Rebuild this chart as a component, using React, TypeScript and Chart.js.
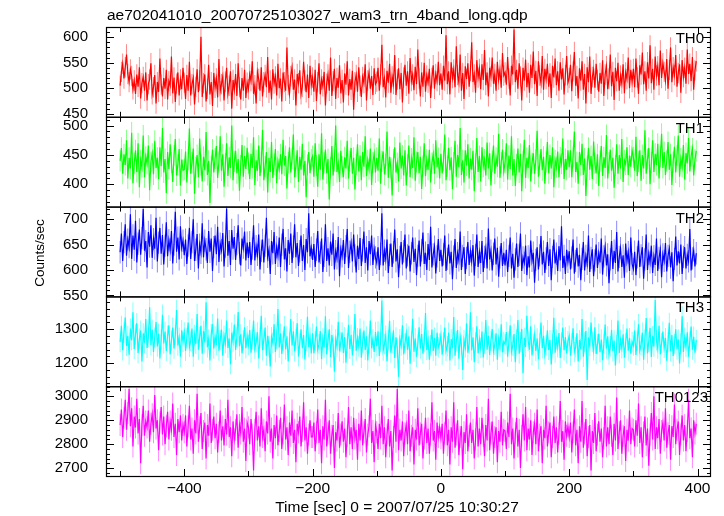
import React, { useEffect, useRef } from 'react';
import { Chart, registerables } from 'chart.js';

Chart.register(...registerables);

const TITLE = 'ae702041010_20070725103027_wam3_trn_4band_long.qdp';
const X_TITLE = 'Time [sec] 0 = 2007/07/25 10:30:27';
const Y_TITLE = 'Counts/sec';
const PANEL_NAMES = ['TH0', 'TH1', 'TH2', 'TH3', 'TH0123'];
const PANEL_COLORS = ['#ff0000', '#00ff00', '#0000ff', '#00ffff', '#ff00ff'];
const ERRBAR_COLORS = ['rgba(255,0,0,0.5)', 'rgba(0,255,0,0.5)', 'rgba(0,0,255,0.5)', 'rgba(0,255,255,0.5)', 'rgba(255,0,255,0.5)'];

// time sampling of the light curves (seconds from 2007/07/25 10:30:27)
const T_START = -500;
const T_STEP = 2;

// typical 1-sigma error bar half-length per band (counts/sec)
const ERR = [20, 18, 22, 30, 46];

const TH0 = [
  505, 532, 548, 519, 541, 566, 528, 512, 537, 524, 498, 515, 489, 527, 503, 541, 480, 510, 522, 495,
  531, 476, 508, 517, 549, 488, 502, 526, 470, 512, 493, 558, 507, 484, 520, 499, 536, 478, 514, 505,
  562, 490, 521, 473, 509, 531, 486, 517, 498, 540,
  511, 479, 526, 495, 552, 486, 508, 520, 468, 503, 537, 492, 515, 601, 483, 510, 527, 474, 499, 546,
  488, 512, 465, 530, 501, 519, 482, 557, 494, 508, 523, 476, 513, 540, 489, 505, 533, 460, 516, 497,
  528, 485, 549, 502, 478, 520, 495, 536, 481, 511,
  498, 527, 514, 553, 489, 506, 470, 532, 518, 495, 541, 484, 512, 526, 502, 561, 491, 515, 478, 537,
  509, 523, 486, 548, 500, 519, 474, 531, 512, 495, 580, 506, 489, 524, 541, 497, 517, 466, 528, 510,
  535, 488, 503, 552, 515, 492, 527, 481, 544, 506,
  521, 493, 536, 475, 512, 549, 488, 517, 504, 532, 466, 509, 527, 495, 560, 485, 514, 538, 479, 520,
  501, 545, 490, 516, 472, 529, 507, 553, 486, 518, 497, 534, 458, 512, 526, 493, 541, 505, 483, 522,
  510, 547, 476, 515, 531, 499, 524, 487, 539, 508,
  513, 540, 495, 527, 585, 502, 519, 482, 534, 511, 548, 491, 523, 508, 565, 487, 517, 539, 498, 530,
  472, 521, 546, 505, 533, 489, 559, 514, 527, 496, 542, 508, 576, 519, 484, 531, 503, 550, 493, 525,
  511, 538, 481, 520, 545, 499, 528, 514, 552, 506,
  529, 497, 544, 515, 604, 508, 533, 488, 551, 520, 537, 502, 582, 526, 511, 566, 495, 530, 479, 543,
  518, 549, 503, 534, 590, 512, 527, 491, 555, 521, 538, 498, 547, 516, 575, 506, 531, 484, 540, 523,
  560, 509, 528, 495, 552, 517, 536, 501, 569, 525,
  531, 507, 561, 519, 486, 544, 527, 615, 512, 536, 499, 549, 523, 476, 540, 515, 556, 502, 530, 491,
  546, 520, 572, 508, 534, 485, 553, 525, 510, 563, 497, 538, 518, 548, 503, 529, 481, 544, 521, 558,
  506, 533, 495, 551, 517, 539, 488, 526, 563, 511,
  520, 546, 494, 533, 571, 505, 524, 480, 539, 515, 553, 497, 528, 470, 541, 512, 562, 489, 522, 536,
  501, 548, 516, 493, 530, 509, 555, 485, 527, 543, 498, 519, 566, 504, 532, 477, 540, 514, 550, 495,
  525, 509, 547, 490, 531, 518, 560, 500, 536, 512,
  538, 502, 558, 521, 489, 545, 527, 570, 508, 533, 495, 551, 519, 584, 510, 538, 497, 562, 525, 543,
  506, 574, 520, 549, 532, 515, 557, 499, 536, 580, 512, 541, 526, 565, 503, 530, 547, 491, 555, 522,
  540, 509, 576, 528, 548, 514, 561, 497, 535, 553,
];

const TH1 = [
  440, 462, 418, 451, 433, 475, 410, 445, 427, 488, 402, 436, 458, 421, 470, 395, 441, 429, 483, 412,
  447, 435, 466, 390, 438, 452, 417, 474, 428, 445, 409, 463, 431, 496, 420, 443, 385, 455, 426, 468,
  437, 404, 449, 477, 415, 433, 460, 398, 442, 424,
  425, 456, 403, 442, 495, 418, 437, 461, 384, 429, 450, 412, 478, 433, 405, 447, 424, 489, 416, 440,
  368, 431, 459, 420, 444, 465, 411, 438, 482, 423, 451, 396, 435, 470, 414, 446, 428, 500, 407, 439,
  457, 419, 443, 389, 432, 467, 413, 448, 426, 462,
  436, 409, 452, 428, 480, 399, 441, 423, 466, 414, 438, 493, 407, 430, 455, 386, 445, 421, 472, 411,
  434, 460, 402, 439, 426, 451, 417, 476, 432, 448, 393, 437, 463, 420, 444, 485, 412, 431, 458, 404,
  447, 425, 469, 415, 440, 378, 433, 455, 419, 442,
  448, 413, 470, 432, 396, 451, 425, 487, 408, 437, 459, 419, 443, 374, 428, 465, 415, 440, 500, 421,
  436, 404, 457, 430, 412, 446, 427, 474, 410, 439, 462, 418, 445, 391, 434, 468, 422, 449, 407, 455,
  430, 482, 414, 441, 426, 461, 399, 437, 452, 420,
  445, 423, 478, 401, 439, 456, 417, 434, 490, 411, 447, 428, 381, 442, 463, 420, 436, 405, 471, 427,
  449, 415, 458, 398, 433, 466, 412, 444, 428, 480, 406, 438, 455, 419, 447, 392, 431, 470, 414, 442,
  425, 459, 403, 436, 451, 418, 475, 429, 445, 410,
  452, 419, 440, 485, 407, 431, 462, 424, 446, 392, 437, 474, 413, 450, 429, 496, 416, 441, 403, 458,
  432, 468, 410, 444, 425, 457, 388, 435, 479, 421, 448, 405, 463, 430, 442, 415, 471, 427, 453, 398,
  439, 466, 418, 445, 430, 486, 411, 437, 459, 422,
  437, 470, 408, 449, 426, 482, 415, 443, 397, 434, 461, 420, 452, 388, 439, 476, 411, 445, 428, 467,
  405, 436, 453, 418, 442, 491, 413, 433, 460, 424, 447, 401, 438, 472, 419, 450, 427, 463, 395, 441,
  429, 456, 412, 446, 435, 478, 409, 443, 425, 458,
  429, 458, 412, 447, 490, 421, 438, 401, 455, 433, 469, 416, 444, 380, 431, 462, 425, 448, 409, 473,
  436, 419, 451, 397, 440, 465, 414, 446, 428, 484, 410, 437, 459, 423, 445, 394, 432, 468, 418, 450,
  427, 477, 404, 441, 434, 463, 416, 449, 430, 458,
  446, 423, 481, 414, 439, 458, 406, 450, 427, 492, 418, 443, 462, 400, 437, 475, 421, 452, 433, 469,
  410, 447, 486, 428, 455, 416, 440, 472, 425, 451, 399, 438, 464, 420, 449, 483, 413, 444, 430, 467,
  408, 453, 436, 479, 422, 448, 461, 415, 442, 457,
];

const TH2 = [
  635, 672, 618, 655, 690, 628, 660, 645, 710, 622, 668, 640, 697, 615, 652, 680, 630, 663, 720, 638,
  657, 605, 675, 646, 688, 624, 661, 642, 703, 617, 654, 683, 632, 669, 611, 648, 694, 627, 659, 640,
  677, 613, 650, 715, 636, 664, 621, 686, 644, 658,
  629, 660, 612, 648, 683, 622, 655, 700, 618, 640, 671, 603, 650, 634, 692, 625, 658, 641, 614, 677,
  636, 662, 598, 645, 668, 631, 685, 616, 652, 639, 673, 607, 646, 721, 628, 657, 610, 679, 642, 665,
  620, 651, 688, 633, 609, 662, 644, 676, 619, 654,
  624, 655, 610, 642, 688, 619, 647, 630, 670, 601, 638, 660, 615, 648, 703, 626, 640, 592, 657, 633,
  675, 612, 645, 628, 664, 606, 650, 681, 621, 643, 597, 659, 632, 672, 614, 646, 690, 625, 653, 608,
  637, 668, 618, 649, 600, 661, 635, 712, 627, 644,
  620, 651, 606, 640, 677, 615, 634, 662, 596, 628, 690, 618, 643, 609, 656, 630, 672, 601, 637, 623,
  665, 588, 641, 627, 659, 612, 647, 681, 604, 636, 653, 617, 670, 629, 595, 648, 622, 663, 608, 639,
  676, 614, 645, 599, 657, 631, 668, 610, 642, 625,
  614, 645, 600, 632, 712, 609, 638, 621, 660, 594, 630, 652, 606, 635, 680, 617, 641, 586, 626, 655,
  611, 637, 670, 603, 629, 648, 597, 633, 664, 616, 642, 590, 628, 658, 607, 639, 674, 612, 634, 600,
  651, 620, 685, 605, 631, 646, 593, 627, 661, 618,
  640, 607, 631, 668, 598, 622, 650, 613, 636, 582, 627, 661, 604, 633, 619, 676, 600, 628, 645, 592,
  624, 655, 610, 637, 617, 649, 589, 630, 670, 606, 635, 614, 657, 596, 626, 643, 603, 682, 621, 638,
  599, 632, 662, 611, 644, 587, 625, 653, 608, 634,
  609, 640, 596, 628, 664, 603, 632, 585, 621, 652, 606, 630, 672, 598, 625, 614, 648, 590, 627, 605,
  658, 618, 634, 575, 620, 645, 601, 629, 667, 611, 636, 594, 623, 655, 608, 641, 580, 626, 660, 613,
  632, 598, 647, 619, 686, 604, 628, 592, 640, 616,
  637, 601, 625, 660, 593, 618, 644, 607, 630, 580, 622, 655, 599, 628, 612, 668, 596, 624, 641, 588,
  619, 650, 604, 633, 615, 662, 591, 627, 646, 609, 631, 574, 621, 657, 602, 638, 614, 675, 597, 626,
  643, 606, 629, 585, 652, 617, 635, 598, 664, 612,
  602, 636, 590, 625, 658, 606, 629, 645, 583, 621, 670, 600, 632, 615, 648, 594, 627, 610, 662, 598,
  624, 640, 586, 631, 618, 653, 597, 628, 642, 605, 635, 578, 622, 666, 609, 637, 613, 650, 592, 626,
  645, 603, 630, 617, 681, 599, 623, 639, 607, 633,
];

const TH3 = [
  1262, 1310, 1238, 1290, 1335, 1251, 1280, 1225, 1302, 1268, 1350, 1242, 1285, 1318, 1230, 1272, 1296, 1205, 1288, 1260,
  1330, 1245, 1278, 1365, 1254, 1299, 1233, 1276, 1321, 1249, 1287, 1214, 1270, 1343, 1258, 1293, 1236, 1281, 1312, 1226,
  1267, 1305, 1243, 1284, 1357, 1252, 1275, 1219, 1297, 1263,
  1291, 1236, 1274, 1320, 1248, 1266, 1302, 1219, 1283, 1257, 1345, 1240, 1277, 1310, 1228, 1295, 1261, 1380, 1247, 1270,
  1208, 1286, 1315, 1243, 1279, 1254, 1332, 1237, 1268, 1299, 1222, 1281, 1259, 1326, 1245, 1273, 1197, 1290, 1264, 1314,
  1239, 1276, 1351, 1250, 1285, 1229, 1267, 1306, 1244, 1280,
  1254, 1298, 1231, 1270, 1326, 1243, 1262, 1291, 1214, 1275, 1340, 1238, 1269, 1305, 1222, 1281, 1250, 1190, 1277, 1260,
  1315, 1233, 1272, 1360, 1246, 1288, 1227, 1265, 1309, 1241, 1279, 1205, 1263, 1330, 1252, 1294, 1235, 1271, 1318, 1220,
  1258, 1300, 1244, 1283, 1211, 1266, 1337, 1248, 1276, 1229,
  1288, 1229, 1265, 1308, 1240, 1256, 1295, 1212, 1273, 1247, 1338, 1226, 1268, 1300, 1218, 1283, 1255, 1175, 1270, 1249,
  1322, 1235, 1262, 1290, 1230, 1277, 1201, 1259, 1313, 1242, 1284, 1223, 1266, 1345, 1237, 1274, 1250, 1302, 1216, 1261,
  1296, 1239, 1279, 1208, 1257, 1326, 1244, 1271, 1233, 1292,
  1250, 1294, 1221, 1263, 1385, 1237, 1256, 1281, 1206, 1268, 1325, 1231, 1260, 1297, 1215, 1276, 1245, 1160, 1271, 1252,
  1312, 1226, 1259, 1288, 1240, 1279, 1198, 1264, 1331, 1234, 1273, 1219, 1255, 1306, 1243, 1286, 1228, 1262, 1348, 1239,
  1267, 1210, 1253, 1299, 1236, 1275, 1222, 1290, 1247, 1258,
  1283, 1225, 1262, 1305, 1236, 1250, 1290, 1208, 1271, 1244, 1336, 1222, 1265, 1298, 1213, 1279, 1254, 1180, 1268, 1247,
  1318, 1231, 1257, 1350, 1238, 1276, 1203, 1261, 1309, 1229, 1270, 1245, 1293, 1217, 1258, 1327, 1240, 1281, 1224, 1266,
  1301, 1235, 1255, 1288, 1210, 1272, 1249, 1315, 1232, 1263,
  1256, 1292, 1219, 1264, 1312, 1234, 1252, 1286, 1203, 1270, 1327, 1228, 1262, 1301, 1170, 1275, 1248, 1340, 1266, 1240,
  1309, 1223, 1258, 1284, 1236, 1273, 1212, 1260, 1320, 1244, 1281, 1226, 1253, 1297, 1239, 1268, 1196, 1257, 1334, 1231,
  1271, 1247, 1289, 1215, 1262, 1305, 1238, 1277, 1229, 1265,
  1281, 1222, 1259, 1303, 1233, 1247, 1288, 1205, 1268, 1241, 1330, 1219, 1262, 1295, 1150, 1276, 1251, 1320, 1263, 1238,
  1306, 1227, 1256, 1287, 1232, 1270, 1209, 1258, 1314, 1243, 1279, 1225, 1250, 1298, 1236, 1267, 1193, 1254, 1326, 1230,
  1269, 1244, 1285, 1216, 1260, 1302, 1237, 1274, 1228, 1263,
  1252, 1296, 1224, 1266, 1315, 1237, 1254, 1290, 1210, 1271, 1333, 1229, 1263, 1304, 1218, 1280, 1249, 1386, 1267, 1243,
  1310, 1226, 1259, 1293, 1245, 1274, 1207, 1262, 1319, 1235, 1283, 1221, 1256, 1300, 1241, 1270, 1199, 1258, 1338, 1233,
  1276, 1248, 1291, 1219, 1265, 1308, 1240, 1278, 1231, 1268,
];

const TH0123 = [
  2880, 2945, 2830, 2910, 2985, 2860, 2930, 3030, 2875, 2950, 2790, 2915, 2870, 2990, 2845, 2905, 2720, 2880, 2960, 2835,
  2895, 2870, 2940, 2810, 2885, 2925, 2850, 3005, 2865, 2900, 2775, 2890, 2955, 2840, 2915, 2800, 2875, 2935, 2820, 2895,
  2860, 2970, 2830, 2885, 2755, 2905, 2850, 2920, 2815, 2880,
  2850, 2920, 2790, 2875, 2960, 2820, 2865, 2760, 2900, 2845, 3010, 2810, 2870, 2930, 2780, 2855, 2890, 2740, 2880, 2835,
  2970, 2805, 2860, 2915, 2825, 2885, 2765, 2850, 2940, 2815, 2875, 2795, 2905, 2840, 2985, 2830, 2870, 2750, 2895, 2820,
  2860, 2925, 2785, 2880, 2845, 2955, 2810, 2865, 2730, 2890,
  2870, 2800, 2905, 2840, 2690, 2860, 2935, 2815, 2875, 2790, 2950, 2830, 2860, 2770, 2895, 2845, 3000, 2810, 2865, 2740,
  2880, 2825, 2920, 2795, 2855, 2910, 2780, 2845, 2965, 2820, 2870, 2755, 2890, 2835, 2940, 2805, 2860, 2725, 2885, 2850,
  2915, 2790, 2855, 2975, 2815, 2870, 2760, 2840, 2900, 2830,
  2830, 2890, 2770, 2850, 2945, 2805, 2860, 2720, 2875, 2820, 2985, 2790, 2845, 2900, 2760, 2835, 2880, 2700, 2850, 2815,
  2930, 2785, 2840, 2895, 2810, 2865, 2745, 2835, 2955, 2800, 2870, 2780, 2910, 2825, 2860, 2735, 2885, 2815, 2940, 2795,
  2850, 2905, 2765, 2840, 2875, 2990, 2805, 2855, 2725, 2880,
  2850, 2780, 2885, 2825, 2960, 2800, 2870, 2745, 2840, 2905, 2790, 2855, 2690, 2830, 2920, 2810, 3030, 2775, 2860, 2815,
  2895, 2750, 2845, 2880, 2800, 2940, 2770, 2835, 2870, 2715, 2860, 2820, 2950, 2795, 2845, 2885, 2740, 2825, 2910, 2805,
  2865, 2760, 2840, 2975, 2815, 2855, 2735, 2890, 2830, 2870,
  2825, 2885, 2760, 2845, 2940, 2795, 2860, 2715, 2870, 2810, 2975, 2785, 2840, 2900, 2755, 2830, 2875, 2695, 2850, 2805,
  2925, 2770, 2835, 2890, 2805, 2860, 2740, 2820, 2955, 2790, 2865, 2800, 2910, 2835, 2750, 2880, 2815, 2990, 2775, 2845,
  2895, 2760, 2830, 2870, 2725, 2855, 2810, 2935, 2795, 2860,
  2855, 2780, 2890, 2830, 3010, 2800, 2865, 2740, 2845, 2910, 2790, 2860, 2700, 2835, 2925, 2815, 2955, 2775, 2865, 2820,
  2900, 2755, 2850, 2885, 2800, 2945, 2770, 2840, 2875, 2720, 2860, 2825, 2960, 2790, 2850, 2890, 2745, 2830, 2915, 2805,
  2870, 2765, 2845, 2980, 2810, 2855, 2735, 2895, 2835, 2875,
  2830, 2890, 2765, 2850, 2945, 2795, 2860, 2720, 2875, 2810, 2980, 2785, 2845, 2905, 2750, 2830, 2880, 2690, 2855, 2805,
  2930, 2770, 2840, 2895, 2810, 2865, 2745, 2825, 2960, 2790, 2870, 2800, 2915, 2835, 2755, 2885, 2815, 2995, 2780, 2850,
  2900, 2760, 2835, 2875, 2730, 2860, 2815, 2940, 2800, 2865,
  2860, 2790, 2900, 2835, 2970, 2805, 2870, 2745, 2850, 2915, 2795, 2865, 2710, 2840, 2930, 2820, 3000, 2780, 2870, 2825,
  2905, 2760, 2855, 2890, 2815, 2950, 2785, 2845, 2880, 2735, 2875, 2830, 2965, 2800, 2860, 2895, 2755, 2840, 2920, 2815,
  2880, 2770, 2855, 2985, 2825, 2865, 2745, 2900, 2845, 2885,
];

const SERIES = [TH0, TH1, TH2, TH3, TH0123];

// axis ranges and tick spacing
const X_MIN = -522;
const X_MAX = 421;
const X_MAJOR = 200;
const X_MINOR = 100;
const Y_MIN = [444, 362, 548, 1132, 2667];
const Y_MAX = [620, 515, 725, 1397, 3042];
const Y_MAJOR = [50, 50, 50, 100, 100];
const Y_MINOR = [10, 10, 10, 20, 20];

const FONT = '"Liberation Sans", Arial, Helvetica, sans-serif';

const fmt = (v: number) => (v < 0 ? '\u2212' + Math.abs(v) : String(v));

const decorPlugin = {
  id: 'qdpDecor',
  afterDraw(chart: any) {
    const ctx = chart.ctx as CanvasRenderingContext2D;
    const { left, right } = chart.chartArea;
    const xs = chart.scales.x;
    ctx.save();
    ctx.strokeStyle = '#000';
    ctx.fillStyle = '#000';
    for (let i = 0; i < SERIES.length; i++) {
      const ys = chart.scales['y' + i];
      const top = ys.top;
      const bottom = ys.bottom;
      // frame
      ctx.lineWidth = 1.2;
      ctx.strokeRect(left + 0.5, top + 0.5, right - left - 1, bottom - top);
      // y ticks (inward, both sides)
      ctx.lineWidth = 1;
      ctx.beginPath();
      const mn = Y_MINOR[i];
      for (let v = Math.ceil(Y_MIN[i] / mn) * mn; v <= Y_MAX[i]; v += mn) {
        const y = Math.round(ys.getPixelForValue(v)) + 0.5;
        const len = v % Y_MAJOR[i] === 0 ? 8 : 4;
        ctx.moveTo(left, y);
        ctx.lineTo(left + len, y);
        ctx.moveTo(right, y);
        ctx.lineTo(right - len, y);
      }
      // x ticks (inward, top and bottom)
      for (let v = Math.ceil(X_MIN / X_MINOR) * X_MINOR; v <= X_MAX; v += X_MINOR) {
        const x = Math.round(xs.getPixelForValue(v)) + 0.5;
        const len = v % X_MAJOR === 0 ? 7 : 5;
        ctx.moveTo(x, top);
        ctx.lineTo(x, top + len);
        ctx.moveTo(x, bottom);
        ctx.lineTo(x, bottom - len);
      }
      ctx.stroke();
      // panel label
      ctx.font = '15px ' + FONT;
      ctx.textAlign = 'right';
      ctx.textBaseline = 'alphabetic';
      ctx.fillText(PANEL_NAMES[i], right - (i === 4 ? 3 : 7), top + 16);
    }
    // main title
    ctx.font = '15.5px ' + FONT;
    ctx.textAlign = 'left';
    ctx.fillText(TITLE, left + 1, 20);
    // x title
    ctx.font = '15.5px ' + FONT;
    ctx.textAlign = 'center';
    ctx.fillText(X_TITLE, 397, 512);
    // y title
    ctx.font = '13.5px ' + FONT;
    ctx.translate(44, 253);
    ctx.rotate(-Math.PI / 2);
    ctx.textAlign = 'center';
    ctx.fillText(Y_TITLE, 0, 0);
    ctx.restore();
  },
};

export default function App() {
  const ref = useRef<HTMLCanvasElement | null>(null);

  useEffect(() => {
    document.body.style.margin = '0';
    const canvas = ref.current;
    if (!canvas) return;

    const lines: any[] = SERIES.map((vals, i) => ({
      type: 'line',
      label: PANEL_NAMES[i],
      data: vals.map((v, k) => ({ x: T_START + k * T_STEP, y: v })),
      yAxisID: 'y' + i,
      borderColor: PANEL_COLORS[i],
      backgroundColor: PANEL_COLORS[i],
      borderWidth: 1.2,
      pointRadius: 0,
      tension: 0,
      fill: false,
      order: 1,
    }));
    const errorBars: any[] = SERIES.map((vals, i) => ({
      type: 'bar',
      label: PANEL_NAMES[i] + ' err',
      data: vals.map((v, k) => ({ x: T_START + k * T_STEP, y: [v - ERR[i], v + ERR[i]] })),
      yAxisID: 'y' + i,
      backgroundColor: ERRBAR_COLORS[i],
      borderWidth: 0,
      grouped: false,
      maxBarThickness: 1,
      order: 2,
    }));

    const scales: any = {
      x: {
        type: 'linear',
        position: 'bottom',
        min: X_MIN,
        max: X_MAX,
        offset: false,
        grid: { display: false, offset: false },
        border: { display: false },
        ticks: {
          stepSize: X_MAJOR,
          includeBounds: false,
          autoSkip: false,
          maxRotation: 0,
          padding: -5,
          color: '#000',
          font: { family: FONT, size: 15.5 },
          callback: (v: any) => fmt(Number(v)),
        },
        afterFit: (s: any) => {
          s.height = 40;
        },
      },
    };
    SERIES.forEach((_, i) => {
      scales['y' + i] = {
        type: 'linear',
        position: 'left',
        stack: 'panels',
        stackWeight: 1,
        weight: SERIES.length - i,
        min: Y_MIN[i],
        max: Y_MAX[i],
        grid: { display: false },
        border: { display: false },
        ticks: {
          stepSize: Y_MAJOR[i],
          includeBounds: false,
          autoSkip: false,
          padding: 10,
          color: '#000',
          font: { family: FONT, size: 15 },
          callback: (v: any) => fmt(Number(v)),
        },
        afterFit: (s: any) => {
          s.width = 106;
        },
      };
    });

    const chart = new Chart(canvas, {
      type: 'line',
      data: { datasets: [...errorBars, ...lines] },
      options: {
        responsive: false,
        animation: false,
        events: [],
        layout: { padding: { left: 0, right: 13, top: 27, bottom: 0 } },
        plugins: {
          legend: { display: false },
          title: { display: false },
          tooltip: { enabled: false },
        },
        scales,
      },
      plugins: [decorPlugin],
    });

    return () => chart.destroy();
  }, []);

  return (
    <div style={{ width: 724, height: 516, background: '#fff' }}>
      <canvas ref={ref} width={724} height={516} />
    </div>
  );
}
